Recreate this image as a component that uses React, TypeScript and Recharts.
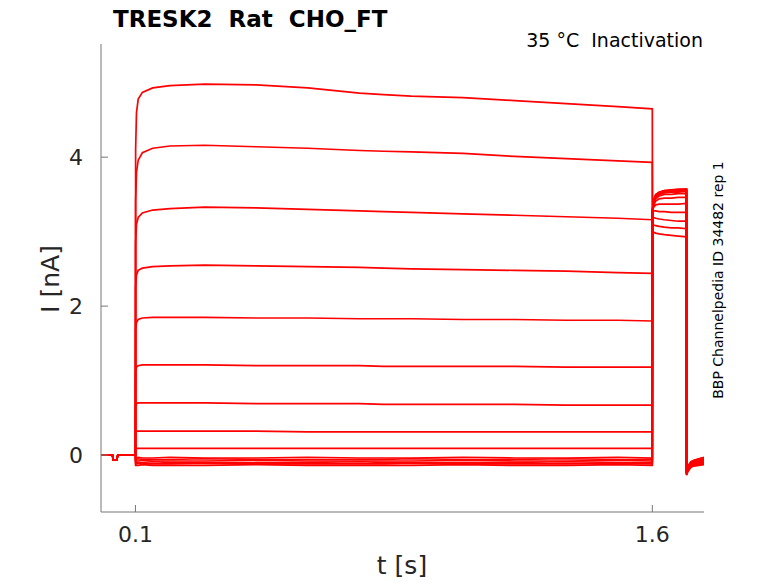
import { LineChart, Line, XAxis, YAxis } from 'recharts';

// time points (s) for each part of the protocol
const baseT = [0, 0.033, 0.036, 0.045, 0.049, 0.1];
const baseI = [0, 0, -0.07, -0.07, 0, 0];

const pulseT = [0.1005, 0.103, 0.108, 0.12, 0.15, 0.2, 0.3, 0.45, 0.6, 0.75, 0.82, 0.9, 1.05, 1.2, 1.35, 1.5, 1.6];
const tailT = [1.6005, 1.604, 1.61, 1.62, 1.635, 1.655, 1.675, 1.699];
const endT = [1.6995, 1.702, 1.706, 1.712, 1.72, 1.735, 1.75];

// current (nA), one row per sweep
const pulseLevels = [
    [4.1, 4.6, 4.78, 4.87, 4.93, 4.96, 4.98, 4.97, 4.93, 4.86, 4.84, 4.82, 4.8, 4.76, 4.72, 4.68, 4.65],
    [3.4, 3.8, 3.96, 4.06, 4.12, 4.15, 4.16, 4.14, 4.12, 4.09, 4.08, 4.07, 4.05, 4.01, 3.98, 3.95, 3.93],
    [2.85, 3.1, 3.19, 3.25, 3.29, 3.31, 3.33, 3.32, 3.3, 3.28, 3.27, 3.26, 3.24, 3.22, 3.2, 3.18, 3.16],
    [2.25, 2.42, 2.48, 2.51, 2.53, 2.54, 2.55, 2.54, 2.53, 2.52, 2.51, 2.5, 2.49, 2.48, 2.47, 2.45, 2.44],
    [1.68, 1.78, 1.82, 1.84, 1.85, 1.85, 1.85, 1.84, 1.84, 1.83, 1.83, 1.83, 1.82, 1.82, 1.81, 1.81, 1.8],
    [1.12, 1.18, 1.2, 1.21, 1.21, 1.21, 1.21, 1.2, 1.2, 1.2, 1.19, 1.19, 1.19, 1.19, 1.18, 1.18, 1.18],
    [0.66, 0.69, 0.7, 0.7, 0.7, 0.7, 0.7, 0.69, 0.69, 0.69, 0.68, 0.68, 0.68, 0.68, 0.67, 0.67, 0.67],
    [0.3, 0.32, 0.32, 0.32, 0.32, 0.32, 0.32, 0.32, 0.31, 0.31, 0.31, 0.31, 0.31, 0.31, 0.31, 0.31, 0.31],
    [0.08, 0.09, 0.09, 0.09, 0.09, 0.09, 0.09, 0.09, 0.09, 0.09, 0.09, 0.09, 0.09, 0.09, 0.09, 0.09, 0.09],
    [-0.04, -0.04, -0.03, -0.04, -0.04, -0.03, -0.04, -0.04, -0.03, -0.04, -0.04, -0.04, -0.03, -0.04, -0.04, -0.03, -0.04],
    [-0.06, -0.06, -0.05, -0.06, -0.06, -0.06, -0.05, -0.06, -0.06, -0.06, -0.06, -0.05, -0.06, -0.06, -0.05, -0.06, -0.06],
    [-0.08, -0.08, -0.08, -0.07, -0.08, -0.08, -0.08, -0.07, -0.08, -0.08, -0.08, -0.08, -0.07, -0.08, -0.08, -0.07, -0.08],
    [-0.1, -0.1, -0.1, -0.1, -0.09, -0.1, -0.1, -0.1, -0.1, -0.09, -0.1, -0.1, -0.1, -0.1, -0.09, -0.1, -0.1],
    [-0.12, -0.12, -0.11, -0.12, -0.12, -0.12, -0.11, -0.12, -0.12, -0.12, -0.12, -0.11, -0.12, -0.12, -0.12, -0.11, -0.12],
    [-0.14, -0.14, -0.14, -0.13, -0.14, -0.14, -0.14, -0.13, -0.14, -0.14, -0.14, -0.14, -0.13, -0.14, -0.14, -0.13, -0.14],
];

const tailLevels = [
    [3.0, 2.99, 2.98, 2.97, 2.96, 2.95, 2.94, 2.93],
    [3.1, 3.09, 3.08, 3.07, 3.06, 3.05, 3.05, 3.04],
    [3.2, 3.19, 3.18, 3.17, 3.16, 3.15, 3.14, 3.14],
    [3.27, 3.28, 3.28, 3.27, 3.27, 3.26, 3.26, 3.26],
    [3.28, 3.33, 3.36, 3.37, 3.37, 3.37, 3.37, 3.38],
    [3.28, 3.36, 3.41, 3.44, 3.45, 3.45, 3.46, 3.46],
    [3.28, 3.38, 3.44, 3.48, 3.5, 3.5, 3.51, 3.51],
    [3.28, 3.39, 3.46, 3.5, 3.52, 3.53, 3.53, 3.54],
    [3.28, 3.4, 3.47, 3.51, 3.53, 3.54, 3.54, 3.55],
    [3.28, 3.41, 3.48, 3.52, 3.54, 3.55, 3.55, 3.56],
    [3.28, 3.41, 3.48, 3.52, 3.53, 3.55, 3.56, 3.56],
    [3.29, 3.42, 3.49, 3.52, 3.54, 3.55, 3.55, 3.57],
    [3.29, 3.42, 3.49, 3.53, 3.54, 3.56, 3.56, 3.56],
    [3.29, 3.42, 3.49, 3.53, 3.55, 3.55, 3.56, 3.57],
    [3.3, 3.43, 3.5, 3.53, 3.55, 3.56, 3.57, 3.57],
];

const endLevels = [
    [-0.22, -0.18, -0.13, -0.09, -0.07, -0.05, -0.03],
    [-0.22, -0.18, -0.14, -0.1, -0.08, -0.05, -0.04],
    [-0.23, -0.19, -0.14, -0.1, -0.08, -0.06, -0.04],
    [-0.23, -0.19, -0.15, -0.11, -0.09, -0.06, -0.05],
    [-0.23, -0.2, -0.15, -0.11, -0.09, -0.07, -0.06],
    [-0.24, -0.2, -0.16, -0.12, -0.1, -0.07, -0.06],
    [-0.24, -0.2, -0.16, -0.12, -0.1, -0.08, -0.07],
    [-0.24, -0.21, -0.17, -0.13, -0.11, -0.09, -0.08],
    [-0.25, -0.21, -0.17, -0.13, -0.11, -0.09, -0.08],
    [-0.25, -0.21, -0.18, -0.14, -0.12, -0.1, -0.09],
    [-0.25, -0.22, -0.18, -0.14, -0.12, -0.11, -0.1],
    [-0.26, -0.22, -0.19, -0.15, -0.13, -0.11, -0.1],
    [-0.26, -0.22, -0.19, -0.15, -0.14, -0.12, -0.11],
    [-0.26, -0.23, -0.2, -0.16, -0.14, -0.13, -0.12],
    [-0.27, -0.23, -0.2, -0.16, -0.15, -0.14, -0.13],
];

const xTicks = [0.1, 1.6];
const yTicks = [0, 2, 4];

const join = (ts: number[], is: number[]) => ts.map((t, k) => ({ t, i: is[k] }));

const traces = pulseLevels.map((pulse, n) => [
    ...join(baseT, baseI),
    ...join(pulseT, pulse),
    ...join(tailT, tailLevels[n]),
    ...join(endT, endLevels[n]),
]);

const FONT = '"DejaVu Sans", sans-serif';
const AXIS = '#777777';
const TEXT = '#262626';

export default function App() {
    return (
        <div style={{ position: 'absolute', left: 0, top: 0, width: 778, height: 583, background: '#fff', fontFamily: FONT }}>
            <LineChart width={778} height={583} margin={{ top: 44, right: 74, bottom: 11, left: 41 }}>
                <XAxis
                    type="number"
                    dataKey="t"
                    domain={[0, 1.75]}
                    ticks={xTicks}
                    allowDataOverflow
                    height={60}
                    stroke={AXIS}
                    tickSize={-7}
                    tickMargin={21}
                    tick={{ fill: TEXT, fontSize: 22, fontFamily: FONT }}
                />
                <YAxis
                    type="number"
                    domain={[-0.765, 5.52]}
                    ticks={yTicks}
                    allowDataOverflow
                    width={60}
                    stroke={AXIS}
                    tickSize={-7}
                    tickMargin={25}
                    tick={{ fill: TEXT, fontSize: 22, fontFamily: FONT }}
                />
                {traces.map((trace, n) => (
                    <Line
                        key={`sweep-${n}`}
                        data={trace}
                        dataKey="i"
                        type="linear"
                        stroke="#ff0000"
                        strokeWidth={1.7}
                        dot={false}
                        activeDot={false}
                        isAnimationActive={false}
                    />
                ))}
            </LineChart>
            <svg width={778} height={583} style={{ position: 'absolute', left: 0, top: 0, pointerEvents: 'none' }}>
                <text x={113} y={27} fontSize={23} fontWeight="bold" fill="#000" style={{ whiteSpace: 'pre' }}>
                    TRESK2  Rat  CHO_FT
                </text>
                <text x={703} y={47} fontSize={19} textAnchor="end" fill="#000" style={{ whiteSpace: 'pre' }}>
                    35 °C  Inactivation
                </text>
                <text x={402} y={574} fontSize={25} textAnchor="middle" fill={TEXT}>
                    t [s]
                </text>
                <text transform="translate(59,279) rotate(-90)" fontSize={25} textAnchor="middle" fill={TEXT}>
                    I [nA]
                </text>
                <text transform="translate(723,280) rotate(-90)" fontSize={14} textAnchor="middle" fill="#000">
                    BBP Channelpedia ID 34482 rep 1
                </text>
            </svg>
        </div>
    );
}
